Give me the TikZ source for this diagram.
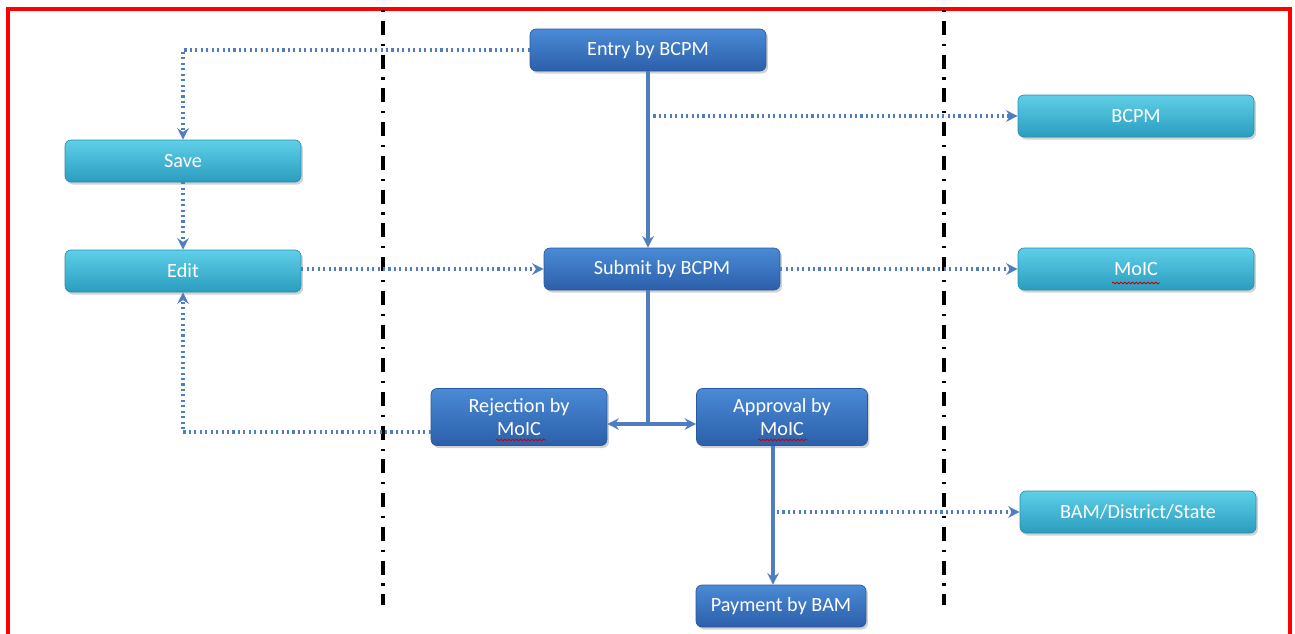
\documentclass[tikz,border=0pt]{standalone}
\usepackage{fontspec}
\setmainfont{Carlito}
\usepackage{tikz}
\usetikzlibrary{arrows.meta, shadows, decorations.pathmorphing, calc, positioning}

\definecolor{boxdarktop}{HTML}{4A8AD6}
\definecolor{boxdarkbot}{HTML}{2C5FAA}
\definecolor{boxdarkrim}{HTML}{2A5A9E}
\definecolor{boxlighttop}{HTML}{5FCFE8}
\definecolor{boxlightbot}{HTML}{2A9CBE}
\definecolor{boxlightrim}{HTML}{2590B0}
\definecolor{flowline}{HTML}{4F7DC0}

\begin{document}
\begin{tikzpicture}[x=0.02cm, y=-0.02cm,
    box/.style={rounded corners=0.12cm, minimum width=4.72cm, minimum height=0.84cm,
        text=white, font=\fontsize{11.5}{13.6}\selectfont, align=center,
        drop shadow={shadow xshift=0.04cm, shadow yshift=-0.05cm, opacity=0.35}},
    darkbox/.style={box, draw=boxdarkrim, top color=boxdarktop, bottom color=boxdarkbot},
    lightbox/.style={box, draw=boxlightrim, top color=boxlighttop, bottom color=boxlightbot},
    solidline/.style={draw=flowline, line width=1.8pt},
    dotline/.style={draw=flowline, line width=2pt, dash pattern=on 1.2pt off 1.9pt},
    tip/.style={-{Stealth[length=6.5pt, width=6.5pt]}},
    divider/.style={draw=black, line width=2pt, dash pattern=on 1.2pt off 5pt on 8pt off 5pt},
    spell/.style={draw=red!80!black, line width=0.5pt, decorate,
        decoration={snake, amplitude=0.5pt, segment length=2.2pt}}]

    \useasboundingbox (0,0) rectangle (1295,633);
    \fill[white] (0,0) rectangle (1295,633);

    % red frame
    \draw[red, line width=2pt] (8,650) -- (8,9) -- (1290,9) -- (1290,650);

    % lane dividers
    \draw[divider] (383,10) -- (383,605);
    \draw[divider] (944,10) -- (944,605);

    % boxes
    \node[darkbox] (entry) at (648,50) {Entry by BCPM};
    \node[lightbox] (save) at (183,161) {Save};
    \node[lightbox] (edit) at (183,271) {Edit};
    \node[darkbox] (submit) at (662,269) {Submit by BCPM};
    \node[lightbox] (bcpm) at (1136,116) {BCPM};
    \node[lightbox] (moic) at (1136,269) {MoIC};
    \node[darkbox, minimum width=3.52cm, minimum height=1.14cm] (reject) at (519,417) {Rejection by\\MoIC};
    \node[darkbox, minimum width=3.42cm, minimum height=1.14cm] (approve) at (782,417) {Approval by\\MoIC};
    \node[lightbox] (bds) at (1138,512) {BAM/District/State};
    \node[darkbox, minimum width=3.4cm] (payment) at (781,606) {Payment by BAM};

    % spelling marks
    \draw[spell] ($(moic.center)+(-24,14)$) -- ($(moic.center)+(24,14)$);
    \draw[spell] ($(reject.center)+(-23,23)$) -- ($(reject.center)+(27,23)$);
    \draw[spell] ($(approve.center)+(-24,23)$) -- ($(approve.center)+(25,23)$);

    % junctions
    \coordinate (tapbcpm) at (entry |- bcpm);
    \coordinate (split) at (entry |- 0,424);
    \coordinate (tappay) at (777,512);
    \coordinate (payline) at ([xshift=-0.18cm]approve.south);

    % flow
    \draw[dotline, tip] (entry.west) -| (save.north);
    \draw[solidline, tip] (entry.south) -- (entry |- submit.north);
    \draw[dotline, tip] (tapbcpm) -- (bcpm.west);
    \draw[dotline, tip] (save.south) -- (edit.north);
    \draw[dotline, tip] (edit.east |- submit) -- (submit.west);
    \draw[dotline, tip] (submit.east) -- (moic.west);
    \draw[solidline] (submit.south -| split) -- (split);
    \draw[solidline, tip] (split) -- (split -| reject.east);
    \draw[solidline, tip] (split) -- (split -| approve.west);
    \draw[dotline, tip] ([yshift=-0.3cm]reject.west) -| (edit.south);
    \draw[solidline, tip] (payline) -- (payline |- payment.north);
    \draw[dotline, tip] (tappay) -- (bds.west);
\end{tikzpicture}
\end{document}
